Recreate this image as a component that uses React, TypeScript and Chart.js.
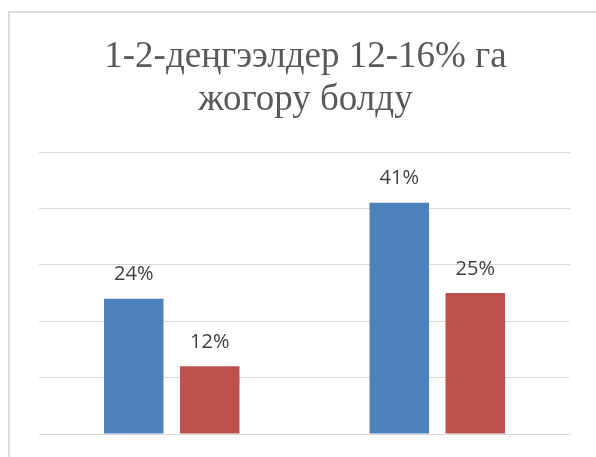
import React, { useEffect, useRef } from "react";
import { Chart, registerables } from "chart.js";

Chart.register(...registerables);

const titleLines = ["1-2-деңгээлдер 12-16% га", "жогору болду"];
const categories = ["1", "2"];
const seriesNames = ["Series 1", "Series 2"];
const blueValues = [24, 41];
const redValues = [12, 25];
const yMax = 50;
const yStep = 10;

const labelPlugin = {
  id: "barLabels",
  afterDatasetsDraw(chart: any) {
    const ctx = chart.ctx;
    ctx.save();
    ctx.font = "20px 'Open Sans'";
    ctx.fillStyle = "#404040";
    ctx.textAlign = "center";
    ctx.textBaseline = "alphabetic";
    chart.data.datasets.forEach((ds: any, di: number) => {
      const meta = chart.getDatasetMeta(di);
      meta.data.forEach((bar: any, i: number) => {
        ctx.fillText(ds.data[i] + "%", bar.x, bar.y - 18.5);
      });
    });
    ctx.restore();
  },
};

export default function App() {
  const ref = useRef<HTMLCanvasElement>(null);
  useEffect(() => {
    if (!ref.current) return;
    const chart = new Chart(ref.current, {
      type: "bar",
      data: {
        labels: categories,
        datasets: [
          {
            label: seriesNames[0],
            data: blueValues,
            backgroundColor: "#4F81BD",
            categoryPercentage: 0.5725,
            barPercentage: 0.783,
          },
          {
            label: seriesNames[1],
            data: redValues,
            backgroundColor: "#C0504D",
            categoryPercentage: 0.5725,
            barPercentage: 0.783,
          },
        ],
      },
      options: {
        responsive: false,
        animation: false,
        layout: { padding: { left: 39, right: 26, bottom: 23, top: 152 } },
        plugins: {
          legend: { display: false },
          tooltip: { enabled: false },
          title: { display: false },
        },
        scales: {
          x: { display: false },
          y: {
            min: 0,
            max: yMax,
            ticks: { display: false, stepSize: yStep },
            grid: { color: "#d9d9d9", lineWidth: 1, drawTicks: false },
            border: { display: false },
          },
        },
      },
      plugins: [labelPlugin],
    });
    const timers = [50, 200, 600].map((t) => setTimeout(() => chart.draw(), t));
    return () => {
      timers.forEach(clearTimeout);
      chart.destroy();
    };
  }, []);
  return (
    <div style={{ position: "fixed", left: 0, top: 0, width: 596, height: 457, background: "#fff", overflow: "hidden" }}>
      <div
        style={{
          position: "absolute",
          left: 8,
          top: 11,
          width: 700,
          height: 700,
          borderLeft: "2px solid #dcdcdc",
          borderTop: "2px solid #dcdcdc",
        }}
      />
      <canvas ref={ref} width={596} height={457} style={{ position: "absolute", left: 0, top: 0 }} />
      <div
        style={{
          position: "absolute",
          left: 40,
          top: 32.6,
          width: 531,
          textAlign: "center",
          fontFamily: "'Liberation Serif'",
          fontSize: 37,
          lineHeight: "43.3px",
          color: "#595959",
          whiteSpace: "nowrap",
        }}
      >
        {titleLines.map((l) => (
          <div key={l}>{l}</div>
        ))}
      </div>
    </div>
  );
}
